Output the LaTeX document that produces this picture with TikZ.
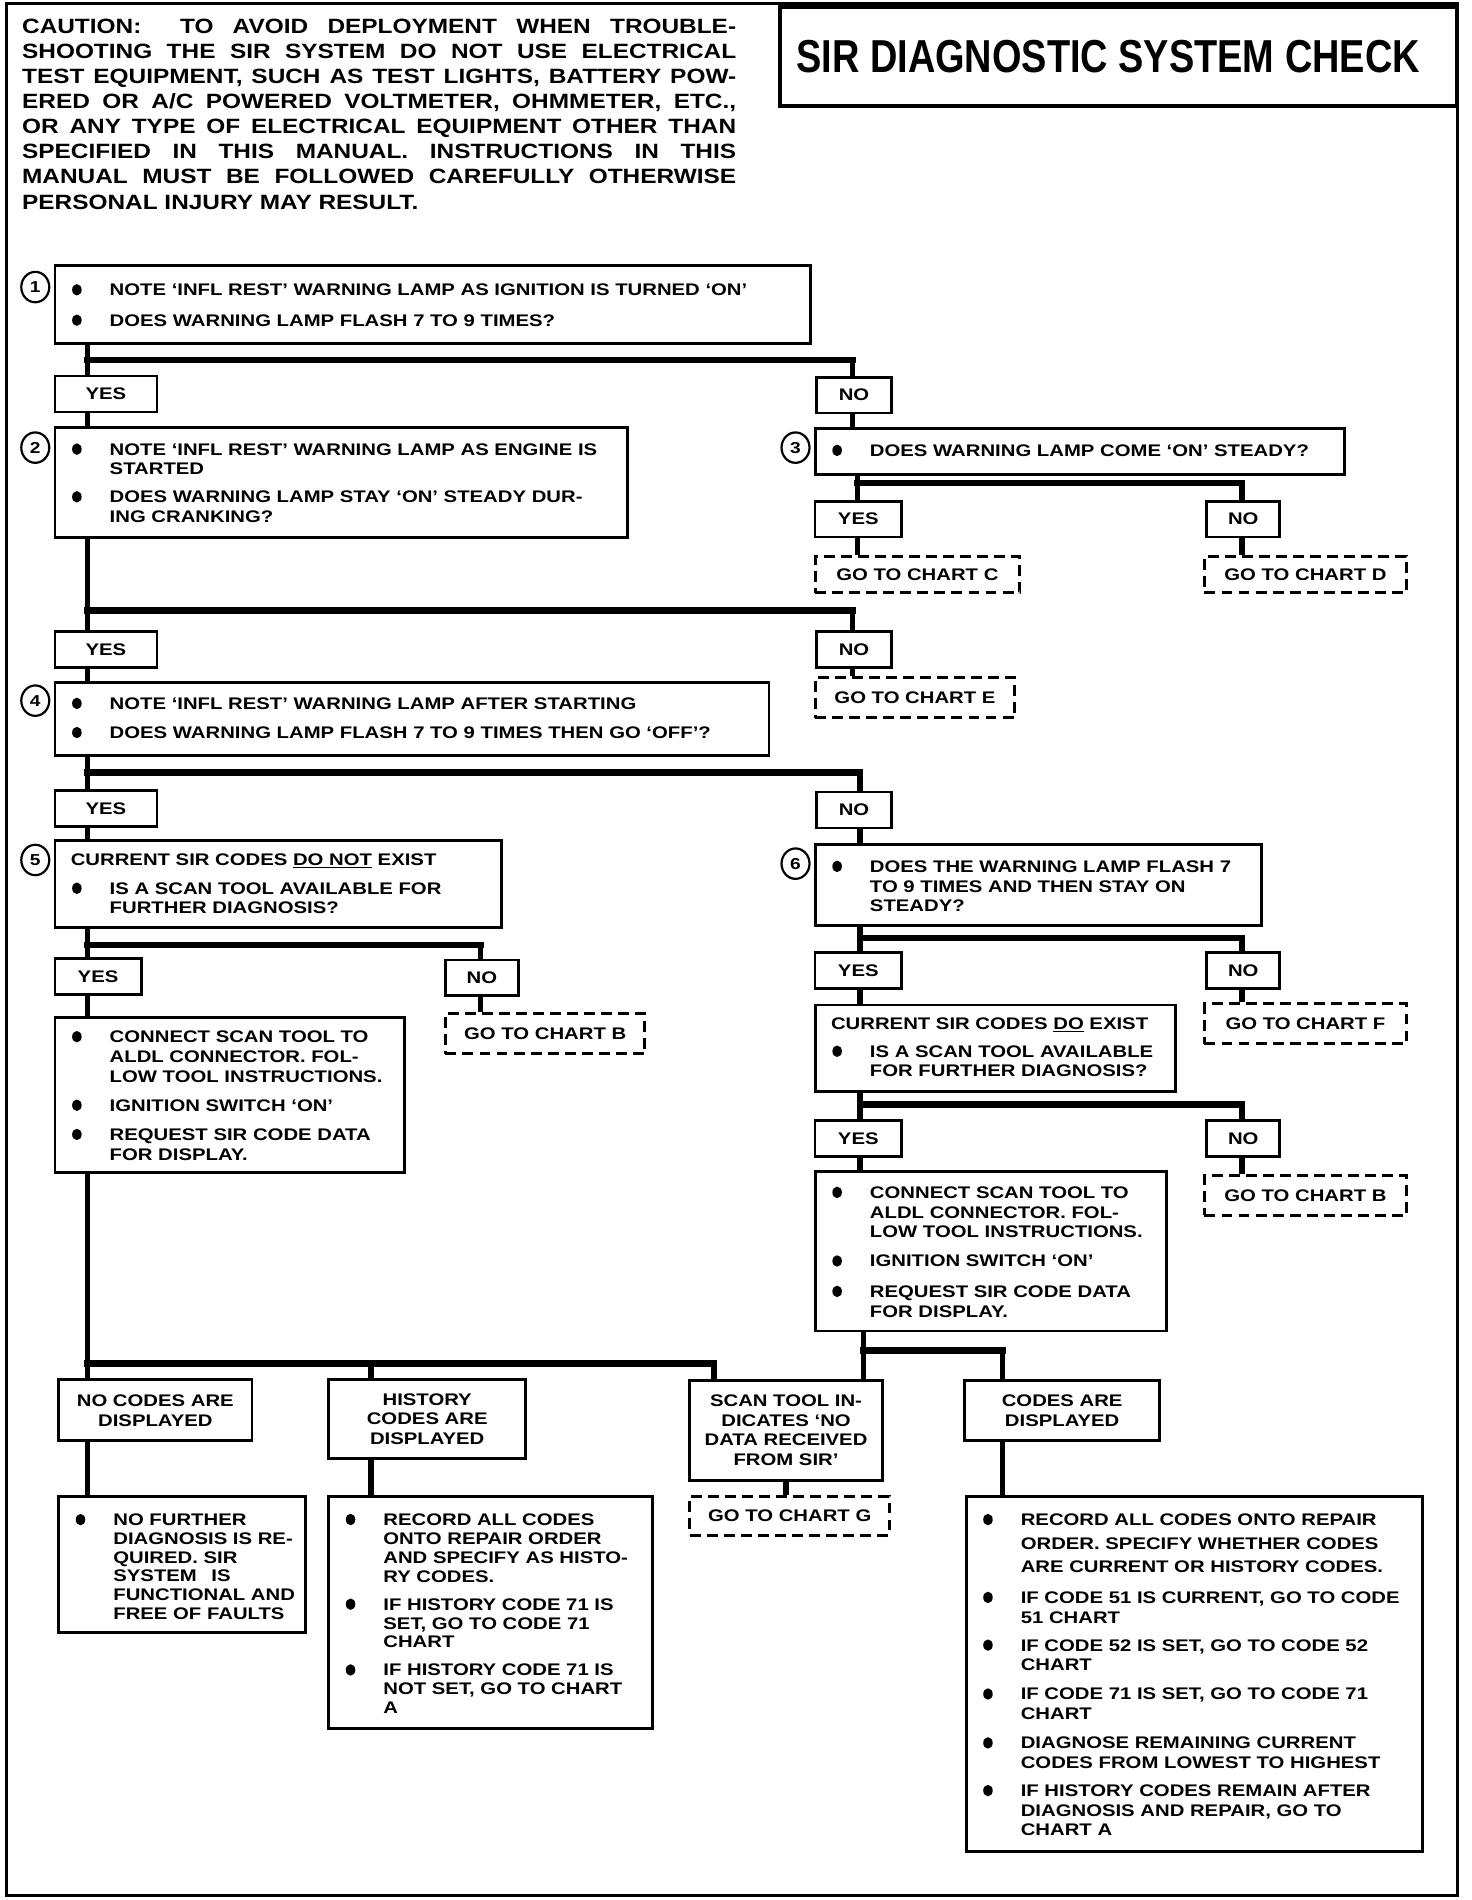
\documentclass[tikz,border=0pt]{standalone}
\usepackage{fontspec}
\usepackage{graphicx}
\usetikzlibrary{shapes.geometric}

\newfontfamily\boxfont{Liberation Sans}[Ligatures=TeX,FakeStretch=1.21]
\newfontfamily\capfont{Liberation Sans}[Ligatures=TeX,FakeStretch=1.18]
\newfontfamily\ttlfont{Liberation Sans}[Ligatures=TeX,FakeStretch=0.82]

\newcommand{\bxf}{\boxfont\bfseries\fontsize{13.8}{16.2}\selectfont}
\newcommand{\bul}{\tikz[baseline=-4.9pt]\fill (0,0) ellipse [x radius=3.9pt, y radius=4.7pt];}

% box body: width, height, top pad, lines
\newcommand{\boxtext}[4]{\parbox[c][#2pt][t]{#1pt}{\lineskip=0pt\vspace*{#3pt}#4}}
% bullet line and plain line
\newcommand{\itm}[2][7.8]{\par\noindent\hspace*{18pt}\makebox[0pt]{\bul}\hspace*{27pt}%
  \begin{tabular}[t]{@{}l@{}}#2\end{tabular}\par\vspace{#1pt}}
\newcommand{\hd}[2][7.8]{\par\noindent\hspace*{13pt}%
  \begin{tabular}[t]{@{}l@{}}#2\end{tabular}\par\vspace{#1pt}}
\newcommand{\ctr}[1]{\centering\begin{tabular}[t]{@{}c@{}}#1\end{tabular}\par}

\tikzset{
  qbox/.style={draw, line width=2.4pt, inner sep=0pt, anchor=north west, font=\bxf},
  ansbox/.style={draw, line width=2.2pt, inner sep=0pt, anchor=north west,
    minimum height=29.5pt, font=\bxf},
  chartbox/.style={draw, dashed, dash pattern=on 9pt off 5pt, line width=2.4pt,
    inner sep=0pt, anchor=north west, font=\bxf},
  numring/.style={draw, ellipse, line width=1.8pt, minimum width=23pt,
    minimum height=25pt, inner sep=0pt, fill=white,
    font=\boxfont\bfseries\fontsize{13}{13}\selectfont},
  trunk/.style={line width=4.5pt},
  bar/.style={line width=5.5pt, line cap=rect}
}

\begin{document}
\begin{tikzpicture}[x=1pt, y=-1pt]

\useasboundingbox (0,0) rectangle (1210,1562);

% outer frame and heading
\draw[line width=2.4pt] (5,3) rectangle (1198,1558);
\node[draw, line width=3pt, minimum width=557pt, minimum height=81pt, inner sep=0pt,
  font=\ttlfont\bfseries\fontsize{38}{40}\selectfont] (title) at (919.5,46.5)
  {\hspace*{-17pt}SIR DIAGNOSTIC SYSTEM CHECK};
\node[anchor=north west, inner sep=0pt, text width=587pt, align=justify,
  font=\capfont\bfseries\fontsize{17}{20.6}\selectfont] (caution) at (18,15.6)
  {\noindent\hyphenpenalty=10000\tolerance=10000
   CAUTION:\ \ TO AVOID DEPLOYMENT WHEN TROUBLE-\linebreak
   SHOOTING THE SIR SYSTEM DO NOT USE ELECTRICAL\linebreak
   TEST EQUIPMENT, SUCH AS TEST LIGHTS, BATTERY POW-\linebreak
   ERED OR A/C POWERED VOLTMETER, OHMMETER, ETC.,\linebreak
   OR ANY TYPE OF ELECTRICAL EQUIPMENT OTHER THAN\linebreak
   SPECIFIED IN THIS MANUAL. INSTRUCTIONS IN THIS\linebreak
   MANUAL MUST BE FOLLOWED CAREFULLY OTHERWISE\linebreak
   PERSONAL INJURY MAY RESULT.};

% question boxes
\node[qbox] (b1) at (44,217) {\boxtext{621}{64}{13.6}{%
  \itm[8.8]{NOTE `INFL REST' WARNING LAMP AS IGNITION IS TURNED `ON'}%
  \itm{DOES WARNING LAMP FLASH 7 TO 9 TIMES?}}};
\node[qbox] (b2) at (44,350) {\boxtext{471}{91}{11.6}{%
  \itm[6.8]{NOTE `INFL REST' WARNING LAMP AS ENGINE IS\\STARTED}%
  \itm{DOES WARNING LAMP STAY `ON' STEADY DUR-\\ING CRANKING?}}};
\node[qbox] (b3) at (669,351) {\boxtext{435}{38}{11.6}{%
  \itm{DOES WARNING LAMP COME `ON' STEADY?}}};
\node[qbox] (b4) at (44,560) {\boxtext{587}{60}{10.6}{%
  \itm{NOTE `INFL REST' WARNING LAMP AFTER STARTING}%
  \itm{DOES WARNING LAMP FLASH 7 TO 9 TIMES THEN GO `OFF'?}}};
\node[qbox] (b5) at (44,690) {\boxtext{367}{71}{8.6}{%
  \hd{CURRENT SIR CODES \underline{DO NOT} EXIST}%
  \itm{IS A SCAN TOOL AVAILABLE FOR\\FURTHER DIAGNOSIS?}}};
\node[qbox] (b6) at (669,693) {\boxtext{367}{67}{11.6}{%
  \itm{DOES THE WARNING LAMP FLASH 7\\TO 9 TIMES AND THEN STAY ON\\STEADY?}}};
\node[qbox] (b5a) at (44,835) {\boxtext{287}{128}{9.6}{%
  \itm{CONNECT SCAN TOOL TO\\ALDL CONNECTOR. FOL-\\LOW TOOL INSTRUCTIONS.}%
  \itm{IGNITION SWITCH `ON'}%
  \itm{REQUEST SIR CODE DATA\\FOR DISPLAY.}}};
\node[qbox] (b6a) at (669,825) {\boxtext{296}{71}{8.6}{%
  \hd[6.8]{CURRENT SIR CODES \underline{DO} EXIST}%
  \itm{IS A SCAN TOOL AVAILABLE\\FOR FURTHER DIAGNOSIS?}}};
\node[qbox] (b6b) at (669,962) {\boxtext{289}{131}{10.6}{%
  \itm{CONNECT SCAN TOOL TO\\ALDL CONNECTOR. FOL-\\LOW TOOL INSTRUCTIONS.}%
  \itm[8.8]{IGNITION SWITCH `ON'}%
  \itm{REQUEST SIR CODE DATA\\FOR DISPLAY.}}};

% result boxes
\node[qbox] (l1) at (47,1133) {\boxtext{159}{50}{10.6}{\ctr{NO CODES ARE\\DISPLAYED}}};
\node[qbox] (l2) at (269,1133) {\boxtext{162}{65}{9.6}{\ctr{HISTORY\\CODES ARE\\DISPLAYED}}};
\node[qbox] (l3) at (566,1134) {\boxtext{158}{82}{9.6}{%
  \ctr{SCAN TOOL IN-\\DICATES `NO\\DATA RECEIVED\\FROM SIR'}}};
\node[qbox] (l4) at (792,1134) {\boxtext{160}{49}{9.6}{\ctr{CODES ARE\\DISPLAYED}}};

\node[qbox] (r1) at (47,1229) {\boxtext{203}{112}{13.2}{\renewcommand{\arraystretch}{0.95}%
  \itm{NO FURTHER\\DIAGNOSIS IS RE-\\QUIRED. SIR\\SYSTEM\hspace{12pt}IS\\FUNCTIONAL AND\\FREE OF FAULTS}}};
\node[qbox] (r2) at (269,1229) {\boxtext{266}{191}{13}{\renewcommand{\arraystretch}{0.96}%
  \itm[7.4]{RECORD ALL CODES\\ONTO REPAIR ORDER\\AND SPECIFY AS HISTO-\\RY CODES.}%
  \itm[7.4]{IF HISTORY CODE 71 IS\\SET, GO TO CODE 71\\CHART}%
  \itm{IF HISTORY CODE 71 IS\\NOT SET, GO TO CHART\\A}}};
\node[qbox] (r4) at (793,1229) {\boxtext{375}{292}{12.6}{%
  \itm[8.8]{RECORD ALL CODES ONTO REPAIR\\[3.3pt]ORDER. SPECIFY WHETHER CODES\\[3.3pt]ARE CURRENT OR HISTORY CODES.}%
  \itm[6.8]{IF CODE 51 IS CURRENT, GO TO CODE\\51 CHART}%
  \itm{IF CODE 52 IS SET, GO TO CODE 52\\CHART}%
  \itm{IF CODE 71 IS SET, GO TO CODE 71\\CHART}%
  \itm[6.8]{DIAGNOSE REMAINING CURRENT\\CODES FROM LOWEST TO HIGHEST}%
  \itm{IF HISTORY CODES REMAIN AFTER\\DIAGNOSIS AND REPAIR, GO TO\\CHART A}}};

% Loop to draw the YES and NO boxes
\foreach \nm/\x/\y/\w/\t in {y1/44/308/84/YES, n1/670/309/62/NO, y3/669/411/71/YES,
    n3/991/411/60/NO, y2/44/518/84/YES, n2/670/518/62/NO, y4/44/649/84/YES,
    n4/670/650/62/NO, y5/44/787/71/YES, n5/365/788/60/NO, y6/669/782/71/YES,
    n6/991/782/60/NO, y7/669/920/71/YES, n7/991/920/60/NO} {
  \node[ansbox, minimum width=\w*1pt] (\nm) at (\x,\y) {\t};
}

% Loop to draw the dashed chart boxes
\foreach \nm/\x/\y/\w/\h/\t in {cc/669/456/168/30/C, cd/989/456/166/30/D,
    ce/669/556/164/33/E, cb1/365/832/164/33/B, cf/989/824/166/33/F,
    cb2/989/965/166/33/B, cg/566/1229/164/32/G} {
  \node[chartbox, minimum width=\w*1pt, minimum height=\h*1pt] (\nm) at (\x,\y) {GO TO CHART \t};
}

% step numbers
\foreach \i/\x/\y in {1/29/236, 2/29/368, 3/654/368, 4/29/576, 5/29/707, 6/654/710} {
  \node[numring] (c\i) at (\x,\y) {\i};
}

% branch points
\coordinate (j1) at (72,296);   \coordinate (k1) at (701,296);
\coordinate (j3) at (705,397);  \coordinate (k3) at (1021,397);
\coordinate (j2) at (72,502);   \coordinate (k2) at (701,502);
\coordinate (j4) at (72,635);   \coordinate (k4) at (707,635);
\coordinate (j5) at (72,777);   \coordinate (k5) at (395,777);
\coordinate (j6) at (707,771);  \coordinate (k6) at (1021,771);
\coordinate (j7) at (707,908);  \coordinate (k7) at (1021,908);
\coordinate (j8) at (72,1121);  \coordinate (h8) at (305,1121);
\coordinate (k8) at (587,1121);
\coordinate (j9) at (710,1110); \coordinate (k9) at (824,1110);

% vertical lines from box to box
\foreach \a/\b/\c in {b1/y1/j1, y1/b2/j1, n1/b3/k1, b3/y3/j3, y3/cc/j3, n3/cd/k3,
    b2/y2/j2, y2/b4/j2, n2/ce/k2, b4/y4/j4, y4/b5/j4, n4/b6/k4, b5/y5/j5,
    y5/b5a/j5, n5/cb1/k5, b6/y6/j6, y6/b6a/j6, n6/cf/k6, b6a/y7/j7, y7/b6b/j7,
    n7/cb2/k7, b5a/l1/j8, l1/r1/j8, l2/r2/h8, l3/cg/l3, b6b/l3/j9, l4/r4/k9} {
  \draw[trunk] (\a.south -| \c) -- (\b.north -| \c);
}

% drops from the bars
\foreach \a/\b in {k1/n1, k3/n3, k2/n2, k4/n4, k5/n5, k6/n6, k7/n7, h8/l2, k8/l3, k9/l4} {
  \draw[trunk] (\a) -- (\b.north -| \a);
}

% the bars
\foreach \a/\b in {j1/k1, j3/k3, j2/k2, j4/k4, j5/k5, j6/k6, j7/k7, j8/k8, j9/k9} {
  \draw[bar] (\a) -- (\b);
}

\end{tikzpicture}
\end{document}
